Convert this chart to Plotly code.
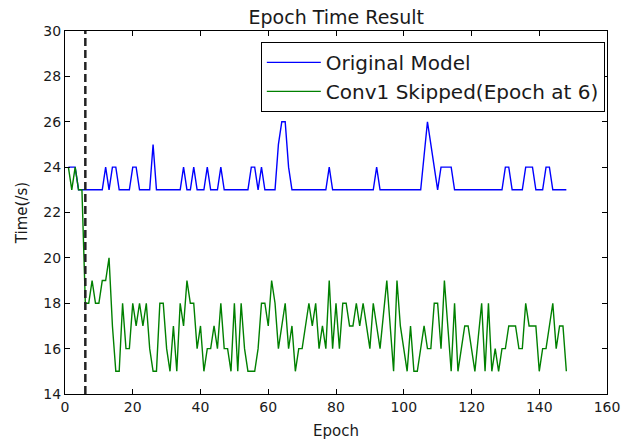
import plotly.graph_objects as go

# ---- data ----
EPOCHS = list(range(1, 149))

ORIGINAL_MODEL = [
    24, 24, 24, 23, 23, 23, 23, 23, 23, 23,
    23, 24, 23, 24, 24, 23, 23, 23, 23, 24,
    24, 23, 23, 23, 23, 25, 23, 23, 23, 23,
    23, 23, 23, 23, 24, 23, 23, 24, 23, 23,
    23, 24, 23, 23, 23, 24, 23, 23, 23, 23,
    23, 23, 23, 23, 24, 24, 23, 24, 23, 23,
    23, 23, 25, 26, 26, 24, 23, 23, 23, 23,
    23, 23, 23, 23, 23, 23, 23, 24, 23, 23,
    23, 23, 23, 23, 23, 23, 23, 23, 23, 23,
    23, 24, 23, 23, 23, 23, 23, 23, 23, 23,
    23, 23, 23, 23, 23, 24.5, 26, 25, 24, 23,
    24, 24, 24, 24, 23, 23, 23, 23, 23, 23,
    23, 23, 23, 23, 23, 23, 23, 23, 23, 24,
    24, 23, 23, 23, 23, 24, 24, 24, 23, 23,
    23, 24, 24, 23, 23, 23, 23, 23,
]

CONV1_SKIPPED = [
    24, 23, 24, 23, 23, 18, 18, 19, 18, 18,
    19, 19, 20, 17, 15, 15, 18, 16, 16, 18,
    17, 18, 17, 18, 16, 15, 15, 18, 18, 16,
    15, 17, 15, 18, 17, 19, 18, 18, 16, 17,
    15, 16, 16, 17, 16, 18, 16, 16, 15, 18,
    15, 18, 16, 15, 15, 15, 16, 18, 18, 17,
    19, 18, 16, 17, 18, 16, 17, 15, 16, 16,
    17, 18, 17, 18, 16, 17, 16, 19, 16, 18,
    16, 18, 18, 17, 17, 18, 17, 18, 17, 16,
    18, 17, 16, 17.5, 19, 17, 15, 19, 17, 16,
    15, 17, 15, 15, 16, 17, 16, 16, 18, 18,
    16, 19, 17, 15, 18, 15, 16, 17, 17, 16,
    15, 16.5, 18, 15, 18, 15, 16, 15, 16, 16,
    17, 17, 17, 16, 16, 18, 17, 17, 17, 15,
    16, 16, 17, 18, 16, 17, 17, 15,
]

SKIP_EPOCH = 6
X_RANGE = [0, 160]
Y_RANGE = [14, 30]
X_TICKS = [0, 20, 40, 60, 80, 100, 120, 140, 160]
Y_TICKS = [14, 16, 18, 20, 22, 24, 26, 28, 30]

SERIES_NAMES = ["Original Model", "Conv1 Skipped(Epoch at 6)"]
TITLE = "Epoch Time Result"
X_LABEL = "Epoch"
Y_LABEL = "Time(/s)"

FONT = "DejaVu Sans"
TEXT = "#1a1a1a"

fig = go.Figure()
fig.add_trace(go.Scatter(
    x=EPOCHS, y=ORIGINAL_MODEL, mode="lines", name=SERIES_NAMES[0],
    line=dict(color="#0000ff", width=1.4), legendgroup="g1",
))
fig.add_trace(go.Scatter(
    x=EPOCHS, y=CONV1_SKIPPED, mode="lines", name=SERIES_NAMES[1],
    line=dict(color="#008000", width=1.4), legendgroup="g2",
))
fig.add_trace(go.Scatter(
    x=[SKIP_EPOCH, SKIP_EPOCH], y=Y_RANGE, mode="lines",
    line=dict(color="#222222", width=2.5, dash="8px,4px"),
    showlegend=False, hoverinfo="skip",
))

axis_common = dict(
    showline=True, linecolor="black", linewidth=1, mirror="ticks",
    ticks="inside", ticklen=5, tickcolor="black", tickwidth=1,
    showgrid=False, zeroline=False, ticklabeloverflow="allow",
    automargin=False,
    tickfont=dict(family=FONT, size=14, color=TEXT),
)

fig.update_layout(
    width=621, height=445,
    margin=dict(l=65, r=14, t=31, b=51),
    paper_bgcolor="white", plot_bgcolor="white",
    font=dict(family=FONT, color=TEXT),
    title=dict(text=TITLE, x=0.5415, xanchor="center", y=0.96, yanchor="middle",
               font=dict(family=FONT, size=19, color=TEXT)),
    xaxis=dict(range=X_RANGE, tickvals=X_TICKS, **axis_common,
               title=dict(text=X_LABEL, font=dict(family=FONT, size=15, color=TEXT), standoff=11)),
    yaxis=dict(range=Y_RANGE, tickvals=Y_TICKS, **axis_common,
               title=dict(text=Y_LABEL, font=dict(family=FONT, size=15, color=TEXT), standoff=12)),
    legend=dict(
        x=0.996, xanchor="right", y=0.97, yanchor="top",
        bgcolor="white", bordercolor="black", borderwidth=1,
        font=dict(family=FONT, size=20, color=TEXT),
        tracegroupgap=7, traceorder="normal", itemwidth=54,
    ),
    showlegend=True,
)

fig.write_html("out.html")
